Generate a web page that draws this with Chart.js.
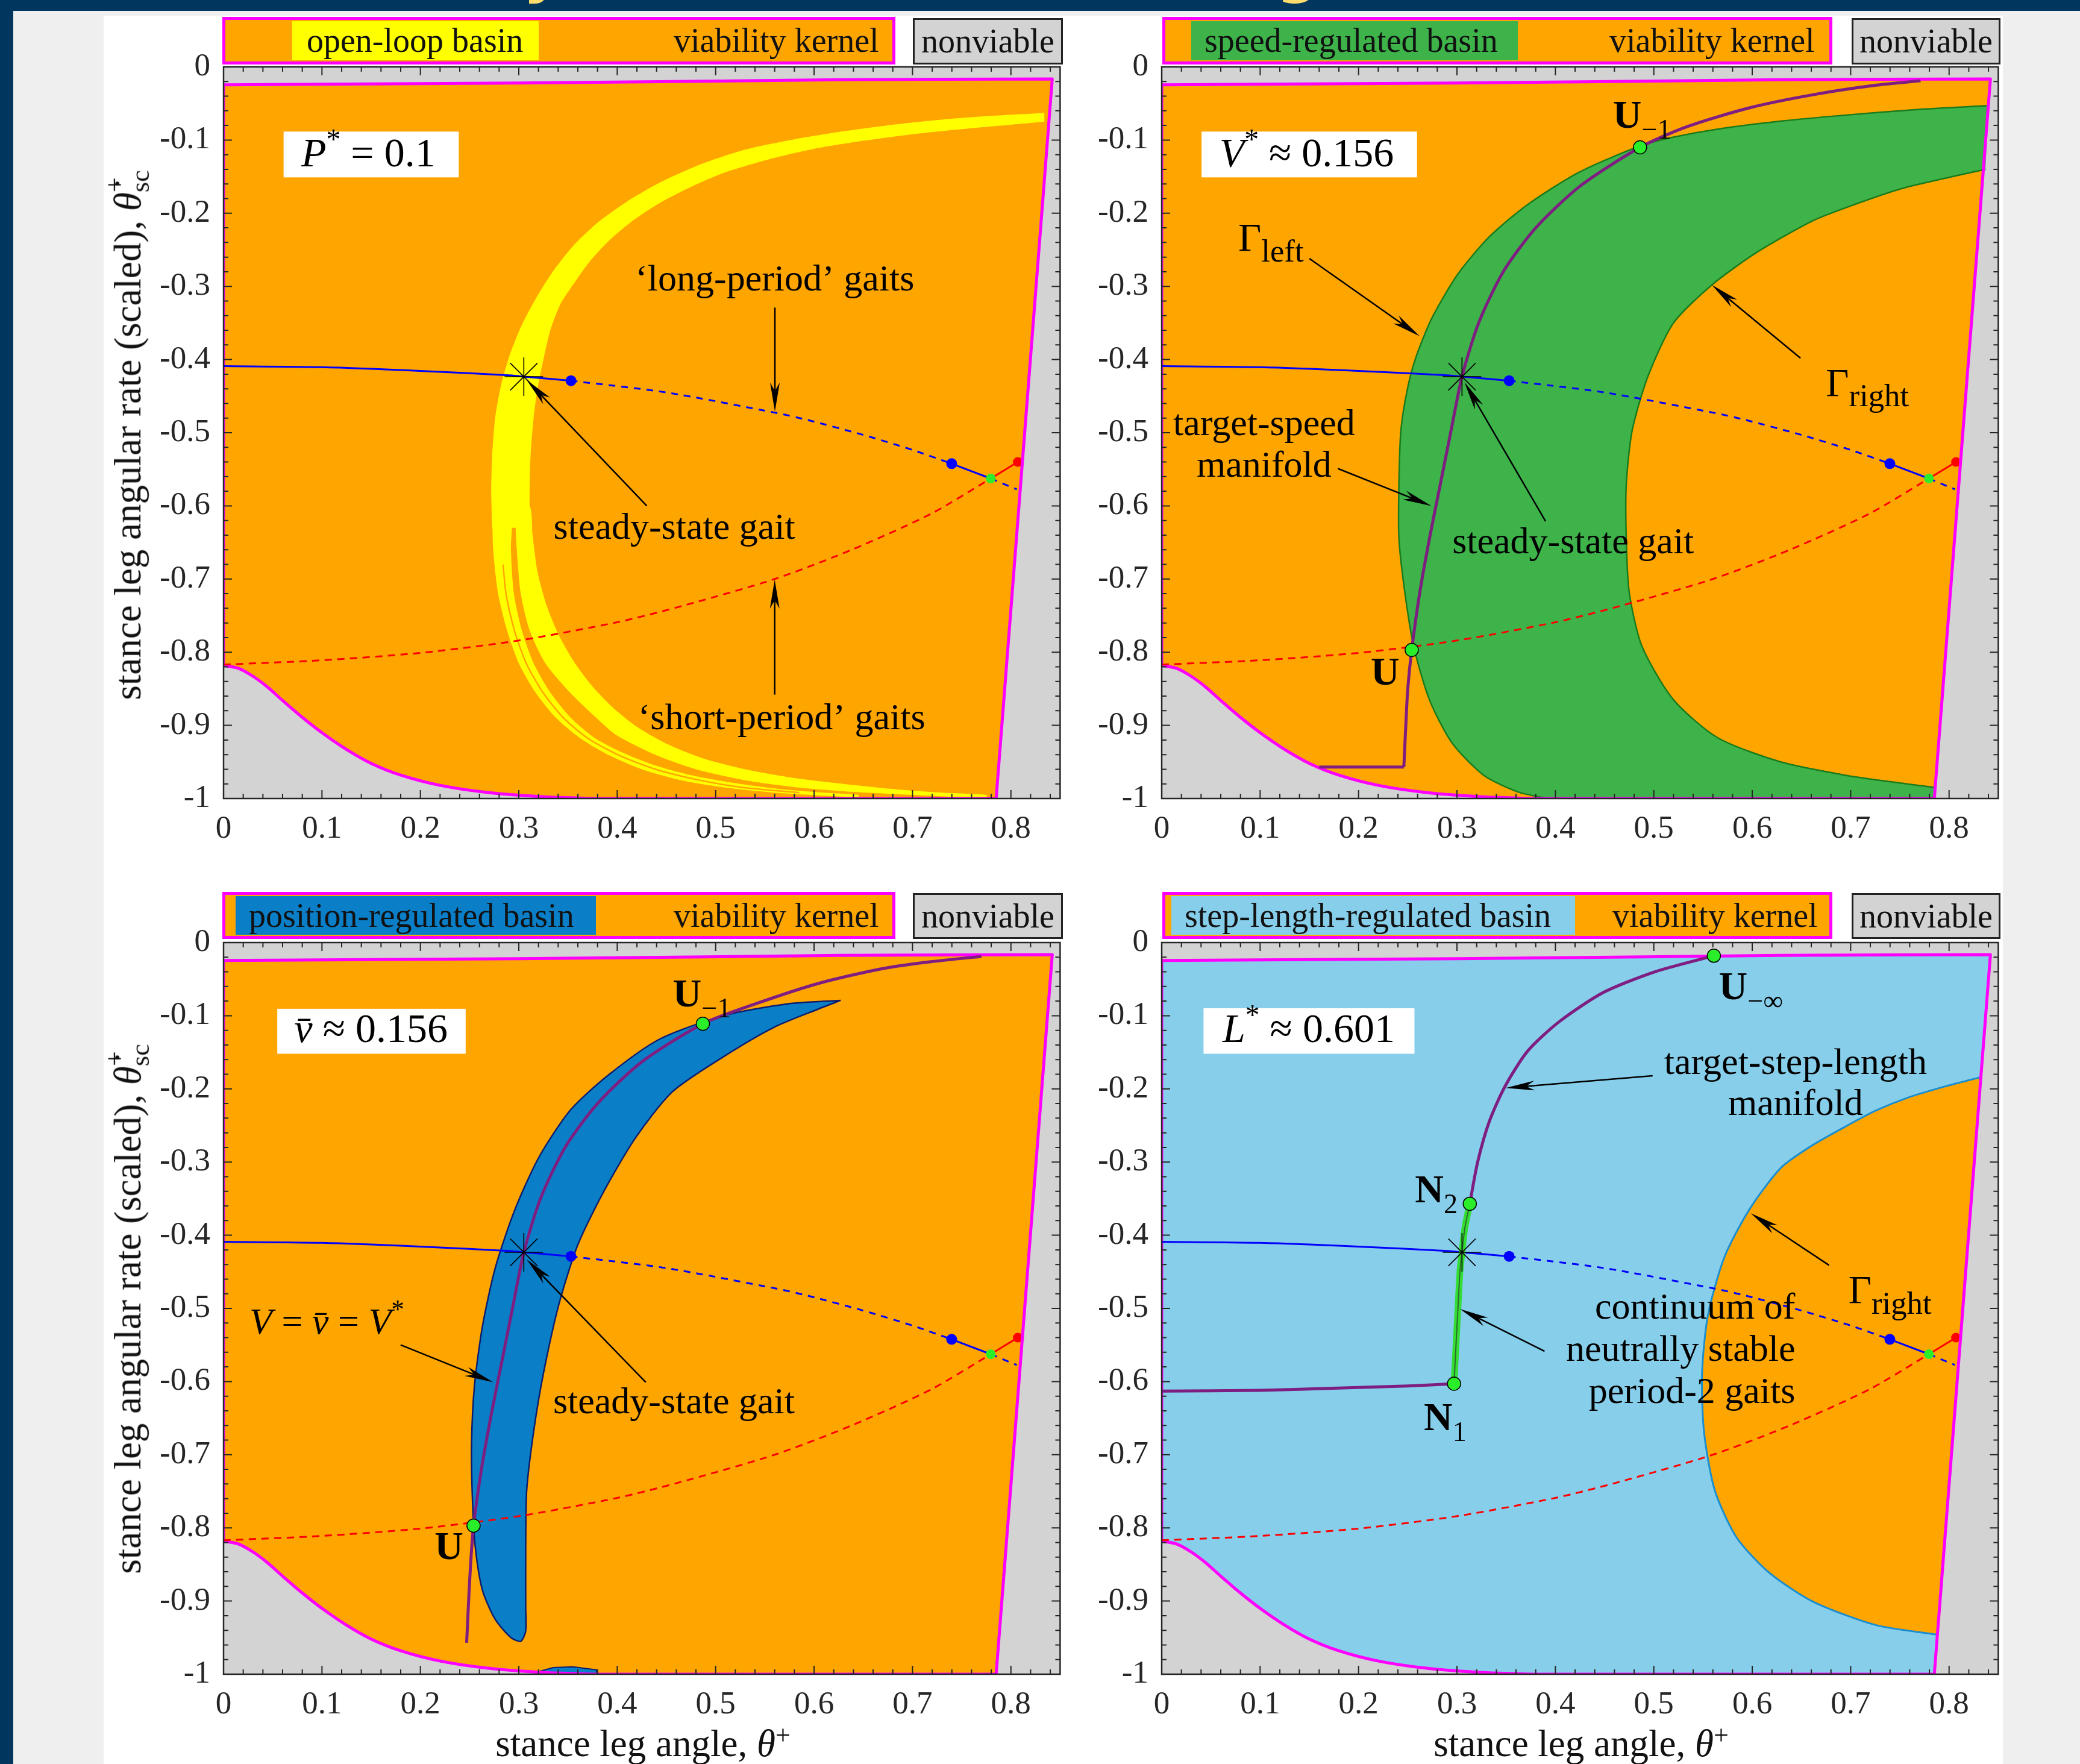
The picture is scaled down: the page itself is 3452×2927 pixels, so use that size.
<!DOCTYPE html>
<html>
<head>
<meta charset="utf-8">
<script src="https://cdn.jsdelivr.net/npm/chart.js@4.4.1/dist/chart.umd.min.js"></script>
<style>
html, body { margin: 0; padding: 0; background: #efefef; }
body { width: 3452px; height: 2927px; position: relative; overflow: hidden; font-family: "Liberation Serif", serif; color: #111; }
#band { position: absolute; left: 0; top: 0; width: 3452px; height: 18px; background: #01365f; overflow: hidden; }
#strip { position: absolute; left: 0; top: 0; width: 22px; height: 2927px; background: #01365f; }
#paper { position: absolute; left: 172px; top: 26px; width: 3152px; height: 2901px; background: #fff; }
.ttl { position: absolute; top: -100px; font: bold 100px "DejaVu Sans"; line-height: 100px; color: #fddc6c; }
canvas { position: absolute; }
.leg { position: absolute; box-sizing: border-box; border: 5px solid #ff00ff; background: #ffa500; }
.patch { position: absolute; }
.lab { position: absolute; font-size: 56px; white-space: nowrap; text-align: left; }
.nv { position: absolute; box-sizing: border-box; border: 3px solid #222; background: #d3d3d3; font-size: 56px; text-align: center; }
.ytitle { position: absolute; font-size: 63px; line-height: 1; white-space: nowrap; transform: translate(-50%, -50%) rotate(-90deg); }
.xtitle { position: absolute; font-size: 63px; line-height: 1; white-space: nowrap; transform: translate(-50%, -50%); }
.stk { display: inline-block; vertical-align: -0.32em; font-size: 0.7em; line-height: 0.95; text-align: left; }
.stk span { display: block; }
</style>
</head>
<body>
<div id="band"><span class="ttl" style="left:868px">y</span><span class="ttl" style="left:2118px">g</span></div>
<div id="strip"></div>
<div id="paper"></div>

<canvas id="p1" width="1622" height="1384" style="left:171px;top:51px"></canvas>
<canvas id="p2" width="1622" height="1384" style="left:1728px;top:51px"></canvas>
<canvas id="p3" width="1622" height="1384" style="left:171px;top:1504px"></canvas>
<canvas id="p4" width="1622" height="1384" style="left:1728px;top:1504px"></canvas>

<div class="ytitle" style="left:212px;top:722px">stance leg angular rate (scaled), <i>θ̇</i><span class="stk"><span>+</span><span>sc</span></span></div>
<div class="ytitle" style="left:212px;top:2172px">stance leg angular rate (scaled), <i>θ̇</i><span class="stk"><span>+</span><span>sc</span></span></div>
<div class="xtitle" style="left:1067px;top:2893px">stance leg angle, <i>θ</i><sup style="font-size:0.7em;vertical-align:0.45em;line-height:0">+</sup></div>
<div class="xtitle" style="left:2624px;top:2893px">stance leg angle, <i>θ</i><sup style="font-size:0.7em;vertical-align:0.45em;line-height:0">+</sup></div>

<script>
// ---- ticks ----
const xTickVals = [0, 0.1, 0.2, 0.3, 0.4, 0.5, 0.6, 0.7, 0.8];
const xTickLabels = ['0', '0.1', '0.2', '0.3', '0.4', '0.5', '0.6', '0.7', '0.8'];
const yTickVals = [0, -0.1, -0.2, -0.3, -0.4, -0.5, -0.6, -0.7, -0.8, -0.9, -1];
const yTickLabels = ['0', '-0.1', '-0.2', '-0.3', '-0.4', '-0.5', '-0.6', '-0.7', '-0.8', '-0.9', '-1'];
const minorStep = 0.02;

// ---- viability kernel boundary, piece by piece ----
const kernelTop = [[0,-0.0245],[0.30,-0.022],[0.49,-0.0195],[0.627,-0.0175],[0.842,-0.0165]];
const kernelRight = [[0.842,-0.0165],[0.785,-1.0]];
const kernelBottom = [[0.785,-1.0],[0.38,-1.0]];
const kernelCurve = [[0.38,-1.0],[0.33,-0.998],[0.27,-0.992],[0.22,-0.982],[0.18,-0.968],[0.15,-0.952],[0.125,-0.933],[0.1,-0.91],[0.08,-0.889],[0.06,-0.866],[0.045,-0.848],[0.03,-0.833],[0.015,-0.822],[0,-0.818]];
const kernelLeft = [[0,-0.818],[0,-0.0245]];

// ---- period-1 branches and markers ----
const blueSolid1 = [[0,-0.409],[0.1,-0.4105],[0.2,-0.4155],[0.293,-0.4218],[0.3051,-0.4234],[0.353,-0.4289]];
const blueDash1 = [[0.353,-0.4289],[0.45,-0.445],[0.5612,-0.4728],[0.5928,-0.4824],[0.65,-0.503],[0.70,-0.5235],[0.7398,-0.5423]];
const blueSolid2 = [[0.7398,-0.5423],[0.7795,-0.5626]];
const blueDash2 = [[0.7795,-0.5626],[0.806,-0.5774]];
const redDash = [[0,-0.817],[0.1,-0.811],[0.2,-0.801],[0.3,-0.784],[0.4,-0.759],[0.46,-0.739],[0.56,-0.700],[0.64,-0.659],[0.72,-0.610],[0.7795,-0.5626]];
const redSolid = [[0.7795,-0.5626],[0.807,-0.540]];
const blueDots = [[0.353,-0.4289],[0.7398,-0.5423]];
const greenDot = [[0.7795,-0.5626]];
const redDot = [[0.807,-0.540]];
const steadyState = [[0.3051,-0.4234]];

// ---- panel 1: open-loop basin ----
const upperOuter = [[0.834,-0.063],[0.78,-0.067],[0.73,-0.072],[0.68,-0.079],[0.63,-0.088],[0.58,-0.099],[0.53,-0.113],[0.485,-0.133],[0.445,-0.157],[0.41,-0.184],[0.38,-0.213],[0.355,-0.245],[0.335,-0.279],[0.318,-0.315],[0.303,-0.353],[0.291,-0.393],[0.282,-0.435],[0.276,-0.48],[0.273,-0.53],[0.272,-0.58],[0.273,-0.63]];
const upperInner = [[0.311,-0.63],[0.311,-0.58],[0.312,-0.53],[0.315,-0.48],[0.319,-0.44],[0.325,-0.40],[0.332,-0.36],[0.342,-0.325],[0.356,-0.296],[0.372,-0.266],[0.392,-0.237],[0.415,-0.211],[0.442,-0.187],[0.475,-0.164],[0.51,-0.144],[0.555,-0.126],[0.60,-0.112],[0.65,-0.101],[0.70,-0.092],[0.75,-0.085],[0.80,-0.079],[0.834,-0.075]];
const thinOuter = [[0.273,-0.60],[0.274,-0.66],[0.279,-0.72],[0.288,-0.77],[0.30,-0.815],[0.317,-0.855],[0.338,-0.89],[0.363,-0.918],[0.392,-0.941],[0.425,-0.96],[0.465,-0.975],[0.51,-0.985],[0.56,-0.992],[0.61,-0.996],[0.645,-0.998]];
const thinInner = [[0.645,-0.995],[0.61,-0.992],[0.565,-0.987],[0.52,-0.979],[0.475,-0.968],[0.437,-0.954],[0.405,-0.937],[0.378,-0.918],[0.353,-0.89],[0.332,-0.855],[0.315,-0.815],[0.303,-0.77],[0.295,-0.72],[0.292,-0.66],[0.292,-0.60]];
const thinSplit = [[0.284,-0.68],[0.287,-0.72],[0.2955,-0.77],[0.3075,-0.815],[0.3245,-0.855],[0.3455,-0.89],[0.3705,-0.918],[0.402,-0.941],[0.439,-0.96],[0.484,-0.975],[0.528,-0.985],[0.585,-0.992]];
const thickOuter = [[0.296,-0.60],[0.298,-0.66],[0.302,-0.72],[0.311,-0.77],[0.327,-0.815],[0.352,-0.855],[0.375,-0.885],[0.40,-0.914],[0.44,-0.941],[0.48,-0.96],[0.53,-0.975],[0.585,-0.985],[0.64,-0.991],[0.70,-0.995],[0.775,-0.999]];
const thickInner = [[0.775,-0.995],[0.73,-0.992],[0.68,-0.987],[0.63,-0.98],[0.58,-0.972],[0.53,-0.96],[0.487,-0.945],[0.45,-0.925],[0.42,-0.902],[0.395,-0.875],[0.375,-0.847],[0.356,-0.813],[0.34,-0.775],[0.328,-0.735],[0.319,-0.69],[0.314,-0.64],[0.311,-0.60]];

// ---- panel 2: speed-regulated basin ----
const speedGammaLeft = [[0.840,-0.053],[0.77,-0.058],[0.694,-0.066],[0.63,-0.074],[0.565,-0.085],[0.52,-0.096],[0.486,-0.108],[0.424,-0.144],[0.372,-0.188],[0.333,-0.232],[0.301,-0.283],[0.275,-0.342],[0.259,-0.394],[0.25,-0.438],[0.243,-0.497],[0.241,-0.571],[0.241,-0.644],[0.247,-0.718],[0.256,-0.792],[0.272,-0.865],[0.295,-0.924],[0.327,-0.968],[0.362,-0.991],[0.392,-1.0]];
const speedBottom = [[0.392,-1.0],[0.785,-1.0],[0.786,-0.985]];
const speedGammaRight = [[0.786,-0.985],[0.74,-0.977],[0.694,-0.968],[0.629,-0.95],[0.565,-0.917],[0.52,-0.865],[0.488,-0.792],[0.475,-0.718],[0.472,-0.644],[0.472,-0.571],[0.478,-0.497],[0.494,-0.423],[0.52,-0.35],[0.559,-0.298],[0.604,-0.254],[0.662,-0.21],[0.70,-0.19],[0.75,-0.167],[0.80,-0.151],[0.837,-0.140]];
const speedRight = [[0.837,-0.140],[0.840,-0.053]];
const speedFloor = [[0.16,-0.957],[0.246,-0.957]];
const speedManifold = [[0.246,-0.957],[0.248,-0.90],[0.25,-0.85],[0.254,-0.797],[0.262,-0.72],[0.272,-0.645],[0.283,-0.571],[0.294,-0.497],[0.3051,-0.4234],[0.322,-0.35],[0.347,-0.28],[0.38,-0.22],[0.425,-0.163],[0.486,-0.110],[0.533,-0.082],[0.597,-0.056],[0.662,-0.038],[0.726,-0.025],[0.771,-0.019]];
const speedPoints = [[0.254,-0.797],[0.486,-0.110]];

// ---- panel 3: position-regulated basin ----
const positionUpper = [[0.627,-0.079],[0.572,-0.084],[0.508,-0.100],[0.443,-0.132],[0.392,-0.180],[0.353,-0.228],[0.321,-0.292],[0.296,-0.365],[0.276,-0.445],[0.263,-0.525],[0.255,-0.605],[0.252,-0.685],[0.253,-0.765],[0.256,-0.829],[0.263,-0.885],[0.276,-0.925],[0.292,-0.950],[0.302,-0.955],[0.307,-0.941],[0.307,-0.909],[0.307,-0.829],[0.308,-0.749],[0.315,-0.669],[0.325,-0.589],[0.341,-0.493],[0.360,-0.413],[0.386,-0.341],[0.418,-0.268],[0.456,-0.204],[0.508,-0.156],[0.559,-0.116],[0.604,-0.091],[0.627,-0.079]];
const positionSliver = [[0.321,-0.996],[0.335,-0.991],[0.355,-0.990],[0.379,-0.994],[0.379,-0.999],[0.321,-0.999],[0.321,-0.996]];
const positionManifold = [[0.247,-0.957],[0.249,-0.90],[0.251,-0.85],[0.254,-0.797],[0.262,-0.72],[0.272,-0.645],[0.283,-0.571],[0.294,-0.497],[0.3051,-0.4234],[0.322,-0.35],[0.347,-0.28],[0.38,-0.22],[0.425,-0.163],[0.487,-0.111],[0.54,-0.084],[0.604,-0.056],[0.668,-0.036],[0.72,-0.026],[0.77,-0.019]];
const positionPoints = [[0.254,-0.797],[0.487,-0.111]];

// ---- panel 4: step-length-regulated basin ----
const stepGammaRight = [[0.832,-0.184],[0.795,-0.197],[0.758,-0.212],[0.725,-0.23],[0.694,-0.252],[0.66,-0.278],[0.629,-0.308],[0.597,-0.365],[0.572,-0.429],[0.555,-0.509],[0.549,-0.589],[0.551,-0.669],[0.562,-0.749],[0.584,-0.813],[0.617,-0.861],[0.662,-0.901],[0.726,-0.933],[0.788,-0.946]];
const stepRight = [[0.788,-0.946],[0.832,-0.184]];
const stepManifoldLow = [[0,-0.613],[0.1,-0.612],[0.179,-0.609],[0.25,-0.606],[0.297,-0.603]];
const stepNeutral = [[0.297,-0.603],[0.299,-0.55],[0.301,-0.50],[0.303,-0.45],[0.3051,-0.4234],[0.308,-0.39],[0.313,-0.357]];
const stepManifoldHigh = [[0.313,-0.357],[0.321,-0.30],[0.333,-0.244],[0.349,-0.196],[0.372,-0.148],[0.404,-0.108],[0.449,-0.068],[0.501,-0.040],[0.561,-0.018]];
const stepPoints = [[0.297,-0.603],[0.313,-0.357],[0.561,-0.018]];

const C = {
  orange: '#ffa500', gray: '#d3d3d3', magenta: '#ff00ff', yellow: '#ffff00',
  green: '#3db34a', greenEdge: '#1b7a1b', blue: '#0a7fc8', blueEdge: '#0b1d6e',
  sky: '#87ceeb', skyEdge: '#1b8ecf', purple: '#7e1e80', lime: '#2bee2b', axis: '#262626'
};
const SMOOTH = 0.25;

// join boundary pieces into one closed outline; shared corner points stay doubled so the curve stays sharp there
function loop(...edges) {
  const out = [];
  edges.forEach(e => out.push(...e));
  out.push(edges[0][0]);
  return out;
}
const kernelEdge = loop(kernelTop, kernelRight, kernelBottom, kernelCurve, kernelLeft);

function pts(a) { return a.map(p => ({ x: p[0], y: p[1] })); }
function fillLayer(a, color, order, tension) {
  return { data: pts(a), showLine: true, fill: 'shape', backgroundColor: color, borderWidth: 0,
    pointRadius: 0, pointHoverRadius: 0, tension: tension || 0, order: order };
}
function strokeLayer(a, color, width, dash, order, tension) {
  return { data: pts(a), showLine: true, fill: false, borderColor: color, backgroundColor: color,
    borderWidth: width, borderDash: dash || [], borderJoinStyle: 'round',
    pointRadius: 0, pointHoverRadius: 0, tension: tension || 0, order: order };
}
function markLayer(a, face, edge, r, bw, style, order) {
  return { data: pts(a), showLine: false, pointRadius: r, pointHoverRadius: r, pointStyle: style,
    pointBackgroundColor: face, pointBorderColor: edge, pointBorderWidth: bw, order: order };
}

// lines and markers shown on every panel
function sharedTop() {
  return [
    markLayer(redDot, '#ff0000', '#ff0000', 8, 0, 'circle', 55),
    strokeLayer(kernelEdge, C.magenta, 5, null, 50, SMOOTH),
    strokeLayer(redDash, '#ff0000', 3, [12, 9], 40, SMOOTH),
    strokeLayer(redSolid, '#ff0000', 3, null, 40),
    strokeLayer(blueSolid1, '#0000ff', 3, null, 40, SMOOTH),
    strokeLayer(blueDash1, '#0000ff', 3, [11, 10], 40, SMOOTH),
    strokeLayer(blueSolid2, '#0000ff', 3, null, 40),
    strokeLayer(blueDash2, '#0000ff', 3, [11, 10], 40),
    markLayer(steadyState, 'rgba(0,0,0,0)', '#000', 32, 1.6, 'star', 20),
    markLayer(blueDots, '#0000ff', '#0000ff', 9, 0, 'circle', 10),
    markLayer(greenDot, C.lime, C.lime, 8, 0, 'circle', 10)
  ];
}

const speedShape = loop(speedGammaLeft, speedBottom, speedGammaRight, speedRight);
const stepOrange = loop(stepGammaRight, stepRight);
const upperBand = loop(upperOuter, [upperOuter[upperOuter.length - 1], upperInner[0]], upperInner, [upperInner[upperInner.length - 1], upperOuter[0]]);

const panels = {
  p1: [
    fillLayer(kernelEdge, C.orange, 100, SMOOTH),
    fillLayer(upperBand, C.yellow, 90, SMOOTH),
    fillLayer(loop(thinOuter, thinInner), C.yellow, 90, SMOOTH),
    fillLayer(loop(thickOuter, thickInner), C.yellow, 90, SMOOTH),
    strokeLayer(thinSplit, C.orange, 2.5, null, 85, SMOOTH)
  ],
  p2: [
    fillLayer(kernelEdge, C.orange, 100, SMOOTH),
    fillLayer(speedShape, C.green, 90, SMOOTH),
    strokeLayer(speedGammaLeft, C.greenEdge, 2.5, null, 85, SMOOTH),
    strokeLayer(speedGammaRight, C.greenEdge, 2.5, null, 85, SMOOTH),
    strokeLayer(speedFloor, C.purple, 5, null, 30),
    strokeLayer(speedManifold, C.purple, 5, null, 30, SMOOTH),
    markLayer(speedPoints, C.lime, '#000', 11, 1.5, 'circle', 5)
  ],
  p3: [
    fillLayer(kernelEdge, C.orange, 100, SMOOTH),
    fillLayer(loop(positionUpper), C.blue, 90, SMOOTH),
    fillLayer(positionSliver, C.blue, 90),
    strokeLayer(loop(positionUpper), C.blueEdge, 2.5, null, 85, SMOOTH),
    strokeLayer(positionSliver, C.blueEdge, 2, null, 85),
    strokeLayer(positionManifold, C.purple, 5, null, 30, SMOOTH),
    markLayer(positionPoints, C.lime, '#000', 11, 1.5, 'circle', 5)
  ],
  p4: [
    fillLayer(kernelEdge, C.sky, 100, SMOOTH),
    fillLayer(stepOrange, C.orange, 90, SMOOTH),
    strokeLayer(stepGammaRight, C.skyEdge, 3, null, 85, SMOOTH),
    strokeLayer(stepManifoldLow, C.purple, 5, null, 30, SMOOTH),
    strokeLayer(stepManifoldHigh, C.purple, 5, null, 30, SMOOTH),
    strokeLayer(stepNeutral, '#33dd33', 11, null, 32, SMOOTH),
    strokeLayer(stepNeutral, '#2d6b2d', 2, null, 31, SMOOTH),
    markLayer(stepPoints, C.lime, '#000', 11, 1.5, 'circle', 5)
  ]
};

// annotations: text, arrows and white label boxes, in data coordinates
const G = 66;   // size of Gamma and point labels
const notes = {
  p1: {
    boxes: [[0.061, -0.0884, 0.239, -0.151]],
    arrows: [[0.5602, -0.329, 0.5602, -0.471], [0.43, -0.60, 0.308, -0.428], [0.56, -0.858, 0.56, -0.701]],
    texts: [
      { x: 0.079, y: -0.118, align: 'left', size: 68, segs: [{ t: 'P', i: 1 }, { t: '*', sup: 1 }, { t: ' = 0.1' }] },
      { x: 0.56, y: -0.289, segs: [{ t: '‘long-period’ gaits' }] },
      { x: 0.458, y: -0.629, segs: [{ t: 'steady-state gait' }] },
      { x: 0.567, y: -0.889, segs: [{ t: '‘short-period’ gaits' }] }
    ]
  },
  p2: {
    boxes: [[0.0405, -0.0884, 0.2594, -0.151]],
    arrows: [[0.15, -0.262, 0.262, -0.368], [0.649, -0.398, 0.559, -0.298], [0.179, -0.549, 0.274, -0.600], [0.39, -0.621, 0.3076, -0.431]],
    texts: [
      { x: 0.0586, y: -0.118, align: 'left', size: 68, segs: [{ t: 'V', i: 1 }, { t: '*', sup: 1 }, { t: ' ≈ 0.156' }] },
      { x: 0.488, y: -0.066, size: G, segs: [{ t: 'U', b: 1 }, { t: '−1', sub: 1 }] },
      { x: 0.111, y: -0.234, size: G, segs: [{ t: 'Γ' }, { t: 'left', sub: 1, sc: 0.8 }] },
      { x: 0.717, y: -0.432, size: G, segs: [{ t: 'Γ' }, { t: 'right', sub: 1, sc: 0.8 }] },
      { x: 0.104, y: -0.487, segs: [{ t: 'target-speed' }] },
      { x: 0.104, y: -0.544, segs: [{ t: 'manifold' }] },
      { x: 0.418, y: -0.648, segs: [{ t: 'steady-state gait' }] },
      { x: 0.227, y: -0.827, size: G, segs: [{ t: 'U', b: 1 }] }
    ]
  },
  p3: {
    boxes: [[0.0546, -0.0905, 0.246, -0.152]],
    arrows: [[0.18, -0.55, 0.274, -0.601], [0.429, -0.601, 0.308, -0.433]],
    texts: [
      { x: 0.072, y: -0.118, align: 'left', size: 68, segs: [{ t: 'v̄', i: 1 }, { t: ' ≈ 0.156' }] },
      { x: 0.486, y: -0.070, size: G, segs: [{ t: 'U', b: 1 }, { t: '−1', sub: 1 }] },
      { x: 0.105, y: -0.518, segs: [{ t: 'V', i: 1 }, { t: ' = ' }, { t: 'v̄', i: 1 }, { t: ' = ' }, { t: 'V', i: 1 }, { t: '*', sup: 1 }] },
      { x: 0.4576, y: -0.627, segs: [{ t: 'steady-state gait' }] },
      { x: 0.229, y: -0.825, size: G, segs: [{ t: 'U', b: 1 }] }
    ]
  },
  p4: {
    boxes: [[0.0425, -0.0897, 0.2568, -0.152]],
    arrows: [[0.4988, -0.182, 0.3495, -0.1987], [0.678, -0.441, 0.5986, -0.370], [0.389, -0.5585, 0.303, -0.5008]],
    texts: [
      { x: 0.0618, y: -0.118, align: 'left', size: 68, segs: [{ t: 'L', i: 1 }, { t: '*', sup: 1 }, { t: ' ≈ 0.601' }] },
      { x: 0.5986, y: -0.060, size: G, segs: [{ t: 'U', b: 1 }, { t: '−∞', sub: 1 }] },
      { x: 0.644, y: -0.163, segs: [{ t: 'target-step-length' }] },
      { x: 0.644, y: -0.219, segs: [{ t: 'manifold' }] },
      { x: 0.279, y: -0.338, size: G, segs: [{ t: 'N', b: 1 }, { t: '2', sub: 1 }] },
      { x: 0.740, y: -0.475, size: G, segs: [{ t: 'Γ' }, { t: 'right', sub: 1, sc: 0.8 }] },
      { x: 0.6437, y: -0.498, align: 'right', segs: [{ t: 'continuum of' }] },
      { x: 0.6437, y: -0.555, align: 'right', segs: [{ t: 'neutrally stable' }] },
      { x: 0.6437, y: -0.613, align: 'right', segs: [{ t: 'period-2 gaits' }] },
      { x: 0.288, y: -0.649, size: G, segs: [{ t: 'N', b: 1 }, { t: '1', sub: 1 }] }
    ]
  }
};

function segFont(s, size) {
  const sz = (s.sub || s.sup) ? size * (s.sc || 0.7) : size;
  return (s.i ? 'italic ' : '') + (s.b ? 'bold ' : '') + sz + 'px "Liberation Serif"';
}
function drawRich(ctx, segs, x, y, size, align) {
  const ws = segs.map(s => { ctx.font = segFont(s, size); return ctx.measureText(s.t).width; });
  const w = ws.reduce((a, b) => a + b, 0);
  let cx = align === 'left' ? x : align === 'right' ? x - w : x - w / 2;
  const base = y + size * 0.32;
  ctx.textAlign = 'left';
  ctx.textBaseline = 'alphabetic';
  segs.forEach((s, i) => {
    ctx.font = segFont(s, size);
    const dy = s.sup ? -size * 0.42 : s.sub ? size * 0.27 : 0;
    ctx.fillText(s.t, cx, base + dy);
    cx += ws[i];
  });
}
function drawArrow(ctx, x0, y0, x1, y1) {
  const ang = Math.atan2(y1 - y0, x1 - x0), L = 48, W = 8, N = 34;
  ctx.strokeStyle = '#000';
  ctx.lineWidth = 2.5;
  ctx.beginPath();
  ctx.moveTo(x0, y0);
  ctx.lineTo(x1 - Math.cos(ang) * N, y1 - Math.sin(ang) * N);
  ctx.stroke();
  ctx.save();
  ctx.translate(x1, y1);
  ctx.rotate(ang);
  ctx.beginPath();
  ctx.moveTo(0, 0);
  ctx.lineTo(-L, W);
  ctx.lineTo(-N, 0);
  ctx.lineTo(-L, -W);
  ctx.closePath();
  ctx.fillStyle = '#000';
  ctx.fill();
  ctx.restore();
}

const framePlugin = {
  id: 'frame',
  beforeDatasetsDraw(chart) {
    const { ctx, chartArea: a } = chart;
    ctx.save();
    ctx.fillStyle = C.gray;
    ctx.fillRect(a.left, a.top, a.width, a.height);
    ctx.restore();
  },
  afterDatasetsDraw(chart) {
    const n = notes[chart.canvas.id];
    const { ctx } = chart;
    const X = v => chart.scales.x.getPixelForValue(v);
    const Y = v => chart.scales.y.getPixelForValue(v);
    ctx.save();
    ctx.fillStyle = '#fff';
    n.boxes.forEach(b => ctx.fillRect(X(b[0]), Y(b[1]), X(b[2]) - X(b[0]), Y(b[3]) - Y(b[1])));
    n.arrows.forEach(r => drawArrow(ctx, X(r[0]), Y(r[1]), X(r[2]), Y(r[3])));
    ctx.fillStyle = '#000';
    n.texts.forEach(t => drawRich(ctx, t.segs, X(t.x), Y(t.y), t.size || 62, t.align || 'center'));
    ctx.restore();
  },
  afterDraw(chart) {
    const { ctx, chartArea: a } = chart;
    const xs = chart.scales.x, ys = chart.scales.y;
    ctx.save();
    ctx.strokeStyle = C.axis;
    ctx.lineWidth = 2;
    ctx.beginPath();
    for (let k = 0; k * minorStep <= xs.max + 1e-9; k++) {
      const p = xs.getPixelForValue(k * minorStep);
      const len = k % 5 === 0 ? 14 : 8;
      ctx.moveTo(p, a.bottom); ctx.lineTo(p, a.bottom - len);
      ctx.moveTo(p, a.top); ctx.lineTo(p, a.top + len);
    }
    for (let k = 0; k * minorStep <= 1 + 1e-9; k++) {
      const p = ys.getPixelForValue(-k * minorStep);
      const len = k % 5 === 0 ? 14 : 8;
      ctx.moveTo(a.left, p); ctx.lineTo(a.left + len, p);
      ctx.moveTo(a.right, p); ctx.lineTo(a.right - len, p);
    }
    ctx.stroke();
    ctx.lineWidth = 2.5;
    ctx.strokeRect(a.left, a.top, a.width, a.height);
    ctx.restore();
  }
};

function makeChart(id) {
  const tickFont = { family: 'Liberation Serif', size: 53 };
  return new Chart(document.getElementById(id), {
    type: 'scatter',
    data: { datasets: panels[id].concat(sharedTop()) },
    options: {
      responsive: false,
      animation: false,
      events: [],
      layout: { padding: { left: 0, top: 60, right: 30, bottom: 0 } },
      plugins: { legend: { display: false }, tooltip: { enabled: false } },
      scales: {
        x: {
          type: 'linear', min: 0, max: 0.85,
          afterBuildTicks: s => { s.ticks = xTickVals.map(v => ({ value: v })); },
          afterFit: s => { s.height = 110; },
          ticks: { callback: (v, i) => xTickLabels[i], font: tickFont, color: C.axis, padding: 19, maxRotation: 0, autoSkip: false },
          grid: { display: false, drawTicks: false },
          border: { display: false }
        },
        y: {
          type: 'linear', min: -1, max: 0,
          afterBuildTicks: s => { s.ticks = yTickVals.map(v => ({ value: v })); },
          afterFit: s => { s.width = 200; },
          ticks: { callback: (v, i) => yTickLabels[i], font: tickFont, color: C.axis, padding: 22, autoSkip: false },
          grid: { display: false, drawTicks: false },
          border: { display: false }
        }
      }
    },
    plugins: [framePlugin]
  });
}

// legend strips above each panel (page pixels)
const legendBoxes = [
  { box: [369, 28, 1486, 107], patch: [485, 894], color: C.yellow, label: 'open-loop basin', lx: 509, vk: 1459, nv: [1515, 30, 1764, 107] },
  { box: [1929, 28, 3041, 107], patch: [1977, 2519], color: C.green, label: 'speed-regulated basin', lx: 1999, vk: 3012, nv: [3073, 30, 3320, 107] },
  { box: [369, 1480, 1486, 1558], patch: [391, 989], color: C.blue, label: 'position-regulated basin', lx: 413, vk: 1459, nv: [1515, 1482, 1764, 1558] },
  { box: [1929, 1480, 3041, 1558], patch: [1944, 2614], color: C.sky, label: 'step-length-regulated basin', lx: 1966, vk: 3017, nv: [3073, 1482, 3320, 1558] }
];
function el(cls, css, text) {
  const d = document.createElement('div');
  d.className = cls;
  Object.assign(d.style, css);
  if (text) d.textContent = text;
  document.body.appendChild(d);
  return d;
}
legendBoxes.forEach(L => {
  const [x0, y0, x1, y1] = L.box, h = y1 - y0;
  el('leg', { left: x0 + 'px', top: y0 + 'px', width: (x1 - x0) + 'px', height: h + 'px' });
  el('patch', { left: L.patch[0] + 'px', top: (y0 + 7) + 'px', width: (L.patch[1] - L.patch[0]) + 'px', height: (h - 14) + 'px', background: L.color });
  el('lab', { left: L.lx + 'px', top: y0 + 'px', height: h + 'px', lineHeight: h + 'px' }, L.label);
  const vk = el('lab', { top: y0 + 'px', height: h + 'px', lineHeight: h + 'px' }, 'viability kernel');
  vk.style.left = (L.vk - vk.offsetWidth) + 'px';
  const [n0, m0, n1, m1] = L.nv;
  el('nv', { left: n0 + 'px', top: m0 + 'px', width: (n1 - n0) + 'px', height: (m1 - m0) + 'px', lineHeight: (m1 - m0 - 6) + 'px' }, 'nonviable');
});

['p1', 'p2', 'p3', 'p4'].forEach(makeChart);
</script>
</body>
</html>
